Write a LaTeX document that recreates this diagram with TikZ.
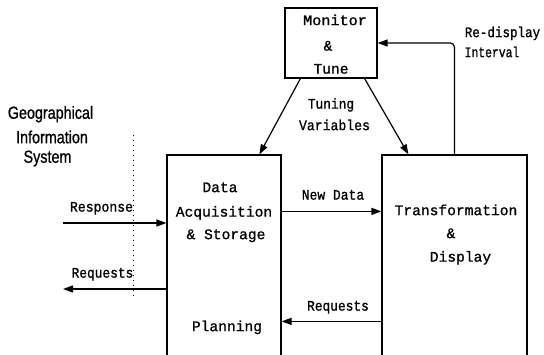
\documentclass[tikz,border=0pt]{standalone}
\usepackage{fontspec}
\usetikzlibrary{arrows.meta,calc}
\newfontfamily\tw[FakeBold=1]{Liberation Mono}
\newfontfamily\geo[FakeBold=1]{Liberation Sans}
\newcommand{\xsq}[2]{\scalebox{#1}[1]{#2}}
\begin{document}
\begin{tikzpicture}[x=1pt,y=-1pt,
  box/.style={draw,line width=1.2pt,inner sep=0pt},
  lbl/.style={font=\tw\fontsize{14.6}{16}\selectfont,inner sep=0pt,text height=8.3pt,text depth=0pt},
  glbl/.style={font=\geo\fontsize{17.5}{18}\selectfont,inner sep=0pt,text height=12.5pt,text depth=0pt},
  arr/.style={line width=1.2pt,-{Triangle[length=10pt,width=7pt]}},
  dotline/.style={line width=1pt,dash pattern=on 1pt off 4pt}]
\clip (0,0) rectangle (544,355);
\fill[white] (0,0) rectangle (544,355);
% boxes
\node[box,minimum width=92pt,minimum height=70pt] (mon) at (331,43) {};
\node[box,minimum width=114pt,minimum height=210pt] (daq) at (224,260) {};
\node[box,minimum width=145pt,minimum height=210pt] (tra) at (454.5,260) {};
% texts
\node[lbl] (t1) at (335,21) {\xsq{1.04}{Monitor}};
\node[lbl] (t2) at (328,46.5) {\&};
\node[lbl] (t3) at (331,69.5) {Tune};
\node[lbl] (t4) at (502.5,33) {\xsq{0.86}{Re-display}};
\node[lbl] (t5) at (492,53) {\xsq{0.78}{Interval}};
\node[lbl] (t6) at (331,104.5) {\xsq{0.88}{Tuning}};
\node[lbl] (t7) at (334.5,126) {\xsq{0.9}{Variables}};
\node[lbl] (t8) at (220,188) {Data};
\node[lbl] (t9) at (224,212.5) {Acquisition};
\node[lbl] (t10) at (226,235) {\& Storage};
\node[lbl] (t11) at (227,327) {Planning};
\node[lbl] (t12) at (101.5,207.5) {\xsq{0.9}{Response}};
\node[lbl] (t13) at (102.5,273.5) {\xsq{0.88}{Requests}};
\node[lbl] (t14) at (333,195.5) {\xsq{0.89}{New Data}};
\node[lbl] (t15) at (456,211) {Transformation};
\node[lbl] (t16) at (451,234) {\&};
\node[lbl] (t17) at (460.5,257.5) {Display};
\node[lbl] (t18) at (338,306.5) {\xsq{0.88}{Requests}};
\node[glbl] (g1) at (50.5,112.5) {\xsq{0.82}{Geographical}};
\node[glbl] (g2) at (52,137) {\xsq{0.82}{Information}};
\node[glbl] (g3) at (47.5,156.5) {\xsq{0.82}{System}};
% connectors
\draw[arr] ($(mon.south west)+(16,0)$) -- ($(daq.north west)+(93,0)$);
\draw[arr] ($(mon.south east)+(-13,0)$) -- ($(tra.north west)+(27,0)$);
\draw[arr,rounded corners=4pt] ($(tra.north west)+(73,0)$) |- (mon.east);
\draw[arr] ($(daq.north east)+(0,57)$) -- ($(tra.north west)+(0,57)$);
\draw[arr] ($(tra.north west)+(0,167)$) -- ($(daq.north east)+(0,167)$);
\coordinate (rin) at (63,223);
\coordinate (rout) at (63,289);
\draw[arr] (rin) -- (rin -| daq.west);
\draw[arr] (rout -| daq.west) -- (rout);
\coordinate (d1) at (133,135);
\coordinate (d2) at (133,296);
\draw[dotline] (d1) -- (d2);
\end{tikzpicture}
\end{document}
